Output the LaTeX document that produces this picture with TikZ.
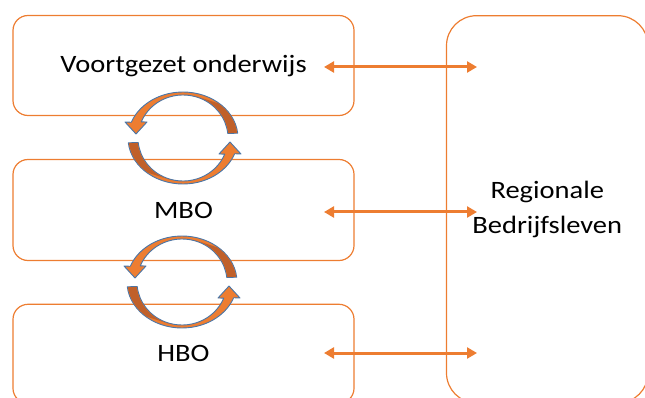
\documentclass[tikz,border=0pt]{standalone}
\usepackage{fontspec}
\setmainfont{Carlito}[FakeStretch=1.14]
\usetikzlibrary{arrows.meta}
\definecolor{oranje}{HTML}{ED7D31}
\definecolor{bruin}{HTML}{C0602A}
\definecolor{pijlrand}{HTML}{4A76A8}

% twee gebogen pijlen rond een middelpunt
\newcommand{\kringpijl}[1]{%
  \begin{scope}[shift={#1},yscale=-1]
    \foreach \hoek in {0,180}{
      \begin{scope}[rotate=\hoek]
        \draw[draw=pijlrand,line width=0.9pt,fill=oranje,line join=round]
          (6:55 and 46) arc[start angle=6,end angle=160,x radius=55,y radius=46]
          -- (-58,16) -- (-47,4) -- (-36,16)
          -- (158:45 and 43) arc[start angle=158,end angle=6,x radius=45,y radius=43] -- cycle;
        \fill[bruin]
          (6.5:54.4 and 45.4) arc[start angle=6.5,end angle=50,x radius=54.4,y radius=45.4]
          -- (75:45.6 and 43.6) arc[start angle=75,end angle=6.5,x radius=45.6,y radius=43.6] -- cycle;
      \end{scope}}
  \end{scope}}

\begin{document}
\begin{tikzpicture}[x=1pt,y=-1pt,font=\fontsize{25}{35}\selectfont,
  blok/.style={draw=oranje,line width=1.2pt,rounded corners=15pt,minimum width=341pt,minimum height=100pt,inner sep=0pt},
  pijl/.style={{Triangle[length=10pt,width=11pt]}-{Triangle[length=10pt,width=11pt]},draw=oranje,line width=3pt}]
\useasboundingbox (0,0) rectangle (645,398);

% onderwijsblokken
\node[blok] (vo) at (183.5,65.5) {Voortgezet\ onderwijs};
\node[blok,minimum height=101pt] (mbo) at (183.5,210) {MBO};
\node[blok,minimum height=99pt] (hbo) at (183.5,353.8) {HBO};
\node[blok,rounded corners=30pt,minimum width=201.5pt,minimum height=387.3pt,align=center] (bedrijf) at (547.25,209.35) {\raisebox{-3pt}{Regionale}\\\raisebox{-3pt}{Bedrijfsleven}};

% verbindingen met het bedrijfsleven
\coordinate (vo-a) at (324,67);
\coordinate (vo-b) at (477,67);
\coordinate (mbo-a) at (324,212);
\coordinate (mbo-b) at (477,212);
\coordinate (hbo-a) at (324,353);
\coordinate (hbo-b) at (477,353);
\draw[pijl] (vo-a) -- (vo-b);
\draw[pijl] (mbo-a) -- (mbo-b);
\draw[pijl] (hbo-a) -- (hbo-b);

% doorstroom tussen de niveaus
\kringpijl{(183,138)}
\kringpijl{(182,282)}
\end{tikzpicture}
\end{document}
